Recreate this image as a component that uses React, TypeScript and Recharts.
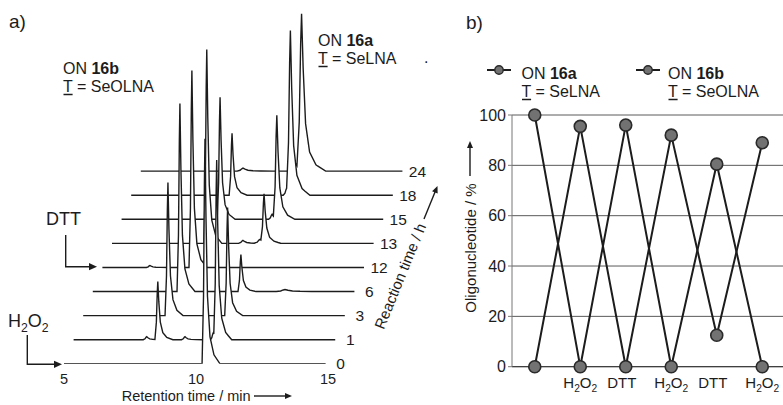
import React from 'react';
import { ComposedChart, Area, XAxis, YAxis, LineChart, Line, CartesianGrid } from 'recharts';

const FONT = '"Liberation Sans", Arial, Helvetica, sans-serif';
const INK = '#1c1c1c';

// ---------- Panel a: HPLC traces ----------
const reactionTimes = ['0', '1', '3', '6', '12', '13', '15', '18', '24'];
const retentionTicks = [5, 10, 15];
const runStart = 5;
const runEnd = 14.91;

// peaks per trace: [retention time / min, height / a.u., width factor]
const peaks0h = [[10.34, 112.5, 1]];
const peaks1h = [[7.77, 1.5, 1.2], [8.19, 29, 1], [9.22, 1.5, 1.2], [10.29, 3.5, 1], [10.42, 89, 1]];
const peaks3h = [[8.21, 66.5, 1], [10.47, 54, 1]];
const peaks6h = [[8.3, 94, 1], [10.61, 18.5, 1], [12.28, 1, 3]];
const peaks12h = [[6.8, 1, 1.2], [8.39, 98.5, 1]];
const peaks13h = [[8.59, 97, 1], [9.96, 1.5, 1.5], [10.61, 2, 2], [10.76, 24, 1.1]];
const peaks15h = [[8.73, 61, 1], [10.7, 2.5, 1.2], [10.88, 51.5, 1.2]];
const peaks18h = [[8.82, 31, 1], [10.89, 3.5, 1.2], [11.03, 81.5, 1.3]];
const peaks24h = [[8.87, 1.5, 2], [10.84, 4.5, 1.5], [11.09, 78, 1.6]];
const chromPeaks = [peaks0h, peaks1h, peaks3h, peaks6h, peaks12h, peaks13h, peaks15h, peaks18h, peaks24h];

// normalised peak outline (offset from apex / min, fraction of height)
const PEAK_SHAPE = [
  [-0.11, 0], [-0.055, 0.3], [-0.022, 0.8], [0, 1], [0.038, 0.65],
  [0.095, 0.3], [0.19, 0.12], [0.34, 0.04], [0.57, 0],
];

function shapeAt(u: number) {
  const n = PEAK_SHAPE.length;
  if (u <= PEAK_SHAPE[0][0] || u >= PEAK_SHAPE[n - 1][0]) return 0;
  for (let k = 1; k < n; k++) {
    const [u1, f1] = PEAK_SHAPE[k];
    if (u <= u1) {
      const [u0, f0] = PEAK_SHAPE[k - 1];
      return f0 + ((f1 - f0) * (u - u0)) / (u1 - u0);
    }
  }
  return 0;
}

function buildTrace(peaks: number[][]) {
  const xs = new Set<number>([runStart, runEnd]);
  peaks.forEach(([t, , w]) =>
    PEAK_SHAPE.forEach(([u]) => {
      const x = +(t + u * w).toFixed(4);
      if (x > runStart && x < runEnd) xs.add(x);
    })
  );
  return Array.from(xs)
    .sort((a, b) => a - b)
    .map((x) => ({ t: x, v: peaks.reduce((s, [t, h, w]) => s + h * shapeAt((x - t) / w), 0) }));
}

const traces = chromPeaks.map(buildTrace);

const A_W = 440;
const A_H = 405;
const A_MARGIN = { top: 3.8, right: 27.52, bottom: 11.2, left: 64 };
const X_SPAN = [5, 18.2];
const Y_SPAN = [0, 180];
const SHIFT_X = 0.3636; // waterfall shift per trace (min)
const SHIFT_Y = 12.04; // waterfall shift per trace (a.u.)

// ---------- Panel b: redox cycling ----------
const cycleSteps = ['', 'H2O2', 'DTT', 'H2O2', 'DTT', 'H2O2'];
const on16a = [100, 0, 96, 0, 80.5, 0];
const on16b = [0, 95.5, 0, 92, 12.5, 89];
const percentTicks = [0, 20, 40, 60, 80, 100];
const cycleData = cycleSteps.map((s, i) => ({ step: i, a: on16a[i], b: on16b[i] }));

const H2O2 = ({ x, y, size = 16, anchor = 'start' }: any) => (
  <text x={x} y={y} fontSize={size} fontFamily={FONT} fill={INK} textAnchor={anchor}>
    H
    <tspan fontSize={size * 0.68} dy={size * 0.28}>2</tspan>
    <tspan dy={-size * 0.28}>O</tspan>
    <tspan fontSize={size * 0.68} dy={size * 0.28}>2</tspan>
  </text>
);

const StepTick = (props: any) => {
  const { x, y, payload } = props;
  const label = cycleSteps[payload.value];
  if (!label) return null;
  if (label === 'H2O2') return <H2O2 x={x} y={y + 21} size={15} anchor="middle" />;
  return (
    <text x={x - 4} y={y + 21} fontSize={15} fontFamily={FONT} fill={INK} textAnchor="middle">
      {label}
    </text>
  );
};

const Arrow = ({ pts, head = 8, hw = 3.6 }: { pts: number[][]; head?: number; hw?: number }) => {
  const [x1, y1] = pts[pts.length - 2];
  const [x2, y2] = pts[pts.length - 1];
  const d = Math.hypot(x2 - x1, y2 - y1);
  const ux = (x2 - x1) / d;
  const uy = (y2 - y1) / d;
  const bx = x2 - ux * head;
  const by = y2 - uy * head;
  const tri = `${x2},${y2} ${bx - uy * hw},${by + ux * hw} ${bx + uy * hw},${by - ux * hw}`;
  const line = pts
    .slice(0, -1)
    .map((p) => p.join(','))
    .concat([`${bx + ux * 1},${by + uy * 1}`])
    .join(' ');
  return (
    <g>
      <polyline points={line} fill="none" stroke={INK} strokeWidth={1.4} />
      <polygon points={tri} fill={INK} />
    </g>
  );
};

const TwoLine = ({ x, y, name, sub, gap = 18, size = 16 }: any) => (
  <g fontFamily={FONT} fill={INK} fontSize={size}>
    <text x={x} y={y}>
      ON <tspan fontWeight="bold">{name}</tspan>
    </text>
    <text x={x} y={y + gap}>T = {sub}</text>
    <line x1={x + 0.5} x2={x + size * 0.6} y1={y + gap + 2.5} y2={y + gap + 2.5} stroke={INK} strokeWidth={1.5} />
  </g>
);

export default function App() {
  const order = traces.map((_, i) => i).reverse();
  return (
    <div
      style={{
        position: 'fixed',
        left: 0,
        top: 0,
        width: 783,
        height: 405,
        overflow: 'hidden',
        background: '#fff',
        fontFamily: FONT,
      }}
    >
      <div style={{ position: 'absolute', left: 0, top: 0 }}>
        <ComposedChart width={A_W} height={A_H} margin={A_MARGIN}>
          {traces.map((_, i) => (
            <XAxis
              key={'x' + i}
              xAxisId={i}
              type="number"
              dataKey="t"
              domain={[X_SPAN[0] - i * SHIFT_X, X_SPAN[1] - i * SHIFT_X]}
              allowDataOverflow
              hide={i !== 0}
              ticks={retentionTicks}
              height={30}
              axisLine={false}
              tickLine={false}
              tickSize={6}
              tickMargin={4}
              tick={{ fontSize: 14.5, fill: INK, fontFamily: FONT }}
            />
          ))}
          {traces.map((_, i) => (
            <YAxis
              key={'y' + i}
              yAxisId={i}
              type="number"
              domain={[Y_SPAN[0] - i * SHIFT_Y, Y_SPAN[1] - i * SHIFT_Y]}
              allowDataOverflow
              hide
            />
          ))}
          {order.map((i) => {
            const last = traces[i].length - 1;
            return (
              <Area
                key={'a' + i}
                data={traces[i]}
                xAxisId={i}
                yAxisId={i}
                dataKey="v"
                type="linear"
                stroke={INK}
                strokeWidth={1.4}
                fill="#ffffff"
                fillOpacity={1}
                dot={false}
                activeDot={false}
                isAnimationActive={false}
                label={(p: any) => {
                  if (p.index !== last) return null;
                  const px = p.x ?? p.viewBox?.x;
                  const py = p.y ?? p.viewBox?.y;
                  return (
                    <text
                      key={'l' + i}
                      x={px + 15}
                      y={py}
                      dy="0.36em"
                      textAnchor="middle"
                      fontSize={15.5}
                      fontFamily={FONT}
                      fill={INK}
                    >
                      {reactionTimes[i]}
                    </text>
                  );
                }}
              />
            );
          })}
        </ComposedChart>
      </div>

      <div style={{ position: 'absolute', left: 440, top: 0 }}>
        <LineChart width={345} height={405} data={cycleData} margin={{ top: 115, right: 0, bottom: 8.3, left: 0 }}>
          <CartesianGrid vertical={false} stroke="#5a5a5a" />
          <XAxis
            dataKey="step"
            type="category"
            scale="point"
            padding={{ left: 22.75, right: 22.75 }}
            height={30}
            axisLine={{ stroke: '#333' }}
            tickLine={false}
            tickSize={0}
            tickMargin={0}
            interval={0}
            tick={<StepTick />}
          />
          <YAxis
            width={72}
            domain={[0, 100]}
            ticks={percentTicks}
            axisLine={{ stroke: '#777' }}
            tickLine={{ stroke: '#777' }}
            tickSize={4}
            tickMargin={2}
            tick={{ fontSize: 16, fill: INK, fontFamily: FONT }}
          />
          <Line
            dataKey="a"
            type="linear"
            stroke={INK}
            strokeWidth={2}
            dot={{ r: 6, fill: '#727272', stroke: '#2a2a2a', strokeWidth: 1.6 }}
            activeDot={false}
            isAnimationActive={false}
          />
          <Line
            dataKey="b"
            type="linear"
            stroke={INK}
            strokeWidth={2}
            dot={{ r: 6, fill: '#727272', stroke: '#2a2a2a', strokeWidth: 1.6 }}
            activeDot={false}
            isAnimationActive={false}
          />
        </LineChart>
      </div>

      <svg
        width={783}
        height={405}
        style={{ position: 'absolute', left: 0, top: 0, pointerEvents: 'none' }}
      >
        {/* panel a annotations */}
        <text x={9} y={28} fontSize={19} fontFamily={FONT} fill={INK}>a)</text>
        <TwoLine x={63} y={74} name="16b" sub="SeOLNA" />
        <TwoLine x={318} y={46} name="16a" sub="SeLNA" />
        <text x={424} y={63} fontSize={16} fontFamily={FONT} fill={INK}>.</text>
        <text x={46} y={225} fontSize={18} fontFamily={FONT} fill={INK}>DTT</text>
        <Arrow pts={[[65.7, 235], [65.7, 266.7], [97, 266.7]]} />
        <H2O2 x={8} y={327} size={18} />
        <Arrow pts={[[27.3, 335], [27.3, 364.3], [62, 364.3]]} />
        <text x={121.7} y={401} fontSize={14.5} fontFamily={FONT} fill={INK}>Retention time / min</text>
        <Arrow pts={[[254, 396], [292, 396]]} head={7} hw={3} />
        <text
          x={400}
          y={276}
          fontSize={15}
          fontFamily={FONT}
          fill={INK}
          textAnchor="middle"
          dominantBaseline="central"
          transform="rotate(-67.7 400 276)"
        >
          Reaction time / h
        </text>
        <Arrow pts={[[424, 219], [437.5, 186]]} head={7} hw={3} />

        {/* panel b annotations */}
        <text x={466} y={29} fontSize={19} fontFamily={FONT} fill={INK}>b)</text>
        <line x1={487} x2={511} y1={70} y2={70} stroke={INK} strokeWidth={2} />
        <circle cx={499} cy={70} r={4.2} fill="#727272" stroke="#2a2a2a" strokeWidth={1.4} />
        <TwoLine x={521.5} y={79} name="16a" sub="SeLNA" />
        <line x1={636} x2={660} y1={70} y2={70} stroke={INK} strokeWidth={2} />
        <circle cx={648} cy={70} r={4.2} fill="#727272" stroke="#2a2a2a" strokeWidth={1.4} />
        <TwoLine x={668} y={79} name="16b" sub="SeOLNA" />
        <text
          x={470}
          y={248}
          fontSize={15}
          fontFamily={FONT}
          fill={INK}
          textAnchor="middle"
          dominantBaseline="central"
          transform="rotate(-90 470 248)"
        >
          Oligonucleotide / %
        </text>
        <Arrow pts={[[470, 176], [470, 141]]} head={7} hw={3} />
      </svg>
    </div>
  );
}
